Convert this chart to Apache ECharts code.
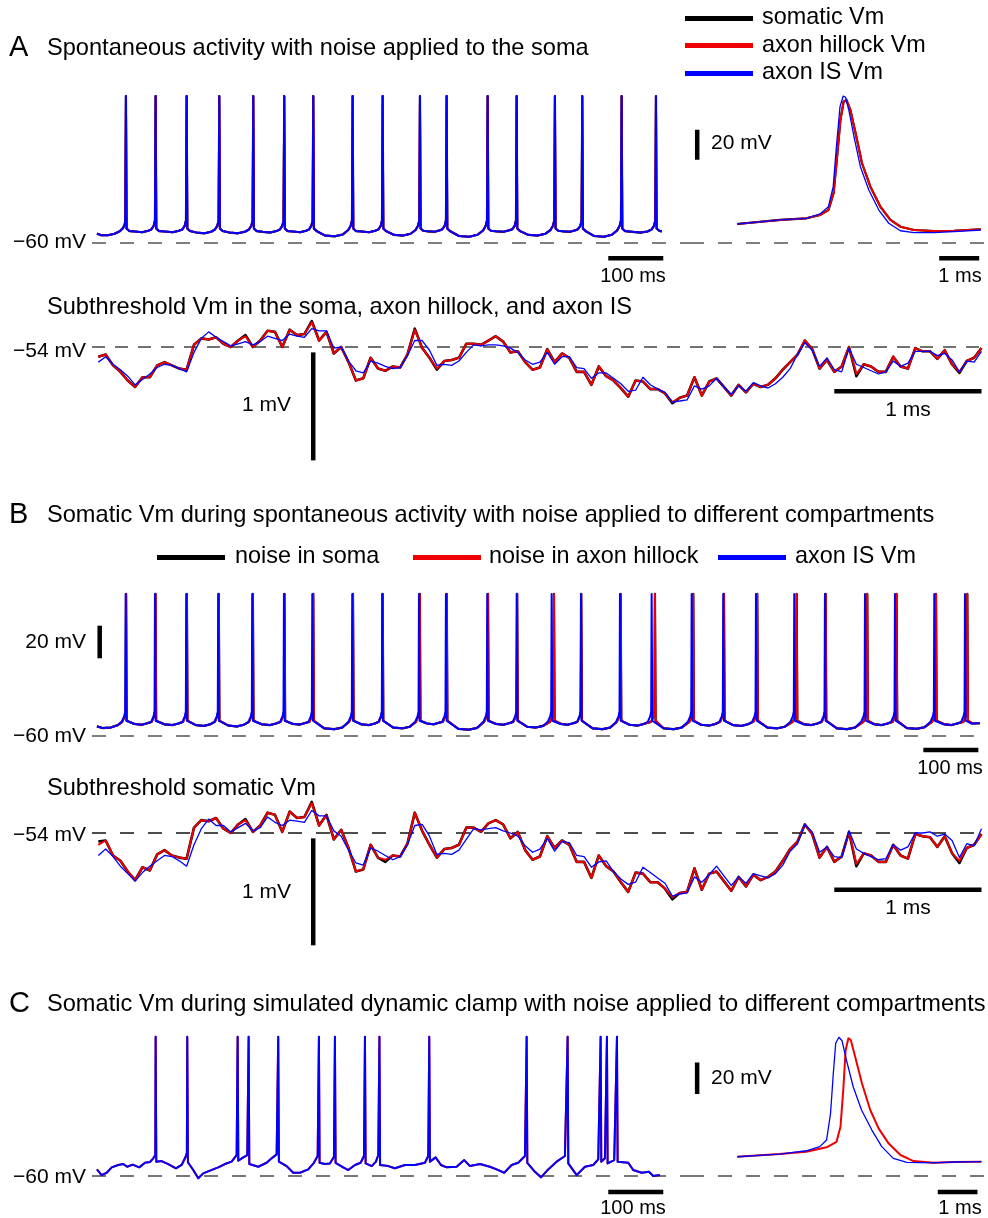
<!DOCTYPE html>
<html><head><meta charset="utf-8">
<script src="https://cdn.jsdelivr.net/npm/echarts/dist/echarts.min.js"></script>
<style>html,body{margin:0;padding:0;background:#fff}#c{width:988px;height:1218px}</style>
</head><body><div id="c"></div>
<script>
// ---------------- DATA ----------------
// Subthreshold traces: sampled every DT ms
const DT = 0.05;
const subA_soma = [
-54.09,-54.07,-54.17,-54.23,-54.31,-54.37,-54.28,-54.28,-54.17,-54.14,
-54.17,-54.20,-54.21,-53.98,-53.92,-53.93,-53.91,-53.97,-54.00,-53.94,
-53.89,-54.00,-53.94,-53.85,-53.86,-54.00,-53.84,-53.89,-53.88,-53.76,
-53.94,-53.86,-54.06,-54.00,-54.14,-54.31,-54.29,-54.10,-54.20,-54.22,
-54.18,-54.19,-54.07,-53.83,-54.01,-54.10,-54.21,-54.13,-54.12,-54.10,
-53.97,-53.97,-53.98,-53.94,-53.90,-53.95,-54.05,-54.04,-54.14,-54.21,
-54.19,-54.02,-54.14,-54.06,-54.10,-54.23,-54.23,-54.35,-54.18,-54.27,
-54.31,-54.38,-54.46,-54.31,-54.32,-54.39,-54.39,-54.43,-54.52,-54.47,
-54.45,-54.28,-54.45,-54.32,-54.29,-54.37,-54.45,-54.35,-54.42,-54.34,
-54.37,-54.35,-54.29,-54.21,-54.14,-54.07,-53.94,-54.02,-54.20,-54.12,
-54.23,-54.18,-54.00,-54.27,-54.16,-54.18,-54.23,-54.23,-54.09,-54.18,
-54.20,-54.01,-54.04,-54.04,-54.11,-54.03,-54.16,-54.24,-54.13,-54.10,
-54.01];
const subA_hillock = [
-54.09,-54.07,-54.17,-54.23,-54.31,-54.37,-54.28,-54.28,-54.17,-54.14,
-54.17,-54.20,-54.21,-53.98,-53.92,-53.93,-53.91,-53.97,-54.00,-53.94,
-53.90,-54.00,-53.94,-53.85,-53.86,-54.00,-53.84,-53.89,-53.88,-53.77,
-53.94,-53.86,-54.06,-54.00,-54.14,-54.31,-54.29,-54.10,-54.20,-54.22,
-54.18,-54.19,-54.07,-53.84,-54.01,-54.10,-54.20,-54.13,-54.12,-54.10,
-53.97,-53.97,-53.98,-53.94,-53.90,-53.95,-54.05,-54.04,-54.14,-54.21,
-54.19,-54.02,-54.14,-54.06,-54.10,-54.23,-54.23,-54.35,-54.18,-54.27,
-54.31,-54.38,-54.46,-54.31,-54.32,-54.39,-54.39,-54.43,-54.51,-54.47,
-54.45,-54.28,-54.45,-54.32,-54.29,-54.37,-54.45,-54.35,-54.42,-54.34,
-54.37,-54.35,-54.29,-54.21,-54.14,-54.07,-53.94,-54.02,-54.20,-54.12,
-54.23,-54.18,-54.00,-54.25,-54.16,-54.18,-54.23,-54.23,-54.09,-54.18,
-54.20,-54.01,-54.04,-54.04,-54.11,-54.03,-54.16,-54.23,-54.13,-54.10,
-54.01];
const subA_is = [
-54.14,-54.09,-54.16,-54.21,-54.27,-54.35,-54.30,-54.25,-54.19,-54.16,
-54.17,-54.20,-54.23,-54.05,-53.92,-53.86,-53.91,-53.95,-53.99,-53.97,
-53.95,-53.98,-53.95,-53.90,-53.92,-53.94,-53.88,-53.90,-53.91,-53.83,
-53.85,-53.85,-54.01,-54.00,-54.13,-54.22,-54.24,-54.13,-54.15,-54.18,
-54.20,-54.19,-54.08,-53.94,-53.94,-54.03,-54.17,-54.16,-54.17,-54.13,
-54.05,-53.98,-53.99,-53.98,-53.98,-53.99,-54.01,-54.05,-54.12,-54.16,
-54.14,-54.05,-54.16,-54.09,-54.09,-54.19,-54.20,-54.29,-54.24,-54.24,
-54.29,-54.34,-54.41,-54.40,-54.28,-54.35,-54.39,-54.42,-54.51,-54.50,
-54.49,-54.36,-54.39,-54.36,-54.29,-54.37,-54.44,-54.36,-54.41,-54.33,
-54.36,-54.38,-54.34,-54.28,-54.20,-54.07,-53.96,-54.03,-54.18,-54.10,
-54.21,-54.23,-54.01,-54.16,-54.19,-54.22,-54.25,-54.23,-54.13,-54.18,
-54.15,-54.04,-54.04,-54.04,-54.08,-54.06,-54.12,-54.23,-54.13,-54.14,
-54.04];
const subB_soma = [
-54.08,-54.07,-54.21,-54.26,-54.36,-54.44,-54.32,-54.35,-54.20,-54.16,
-54.21,-54.23,-54.24,-53.95,-53.88,-53.89,-53.86,-53.96,-54.00,-53.92,
-53.87,-53.99,-53.93,-53.81,-53.83,-53.99,-53.80,-53.86,-53.85,-53.71,
-53.93,-53.83,-54.06,-53.97,-54.14,-54.36,-54.34,-54.11,-54.23,-54.27,
-54.21,-54.22,-54.10,-53.81,-53.98,-54.11,-54.23,-54.15,-54.14,-54.11,
-53.95,-53.95,-53.99,-53.91,-53.88,-53.92,-54.05,-53.99,-54.16,-54.25,
-54.22,-54.03,-54.14,-54.07,-54.11,-54.27,-54.27,-54.42,-54.21,-54.31,
-54.36,-54.46,-54.55,-54.37,-54.38,-54.46,-54.46,-54.52,-54.62,-54.56,
-54.55,-54.33,-54.53,-54.38,-54.36,-54.45,-54.54,-54.41,-54.50,-54.39,
-54.44,-54.41,-54.36,-54.26,-54.15,-54.08,-53.92,-54.01,-54.23,-54.13,
-54.27,-54.22,-53.99,-54.31,-54.19,-54.21,-54.27,-54.27,-54.11,-54.21,
-54.24,-54.01,-54.03,-54.04,-54.13,-54.03,-54.19,-54.28,-54.14,-54.11,
-54.01];
const subB_hillock = [
-54.11,-54.07,-54.21,-54.26,-54.36,-54.44,-54.32,-54.35,-54.20,-54.16,
-54.21,-54.23,-54.24,-53.95,-53.88,-53.89,-53.86,-53.96,-54.00,-53.92,
-53.88,-53.99,-53.93,-53.81,-53.83,-53.99,-53.80,-53.86,-53.85,-53.72,
-53.93,-53.83,-54.06,-53.97,-54.14,-54.36,-54.34,-54.11,-54.23,-54.25,
-54.21,-54.22,-54.10,-53.81,-53.98,-54.11,-54.23,-54.15,-54.14,-54.11,
-53.95,-53.95,-53.99,-53.91,-53.88,-53.92,-54.05,-53.99,-54.16,-54.25,
-54.22,-54.03,-54.14,-54.07,-54.11,-54.27,-54.27,-54.42,-54.21,-54.31,
-54.36,-54.46,-54.55,-54.37,-54.38,-54.46,-54.46,-54.52,-54.60,-54.56,
-54.55,-54.33,-54.53,-54.38,-54.36,-54.45,-54.54,-54.41,-54.50,-54.39,
-54.44,-54.41,-54.36,-54.26,-54.15,-54.08,-53.92,-54.01,-54.23,-54.13,
-54.27,-54.22,-53.99,-54.29,-54.19,-54.21,-54.27,-54.27,-54.11,-54.21,
-54.24,-54.01,-54.03,-54.04,-54.13,-54.03,-54.19,-54.26,-54.14,-54.11,
-54.01];
const subB_is = [
-54.21,-54.15,-54.22,-54.31,-54.38,-54.45,-54.37,-54.31,-54.26,-54.21,
-54.22,-54.26,-54.31,-54.11,-53.96,-53.87,-53.93,-53.93,-53.99,-53.95,
-53.91,-53.98,-53.95,-53.85,-53.90,-53.93,-53.88,-53.89,-53.90,-53.79,
-53.84,-53.84,-53.98,-54.03,-54.16,-54.28,-54.30,-54.14,-54.17,-54.21,
-54.25,-54.22,-54.11,-53.93,-53.92,-54.03,-54.20,-54.19,-54.20,-54.16,
-54.06,-53.96,-53.97,-53.96,-53.95,-53.98,-54.00,-54.03,-54.12,-54.18,
-54.15,-54.05,-54.17,-54.08,-54.09,-54.21,-54.22,-54.32,-54.27,-54.26,
-54.36,-54.43,-54.48,-54.46,-54.32,-54.37,-54.42,-54.47,-54.59,-54.57,
-54.56,-54.41,-54.46,-54.39,-54.31,-54.40,-54.49,-54.41,-54.47,-54.38,
-54.40,-54.42,-54.38,-54.30,-54.17,-54.10,-53.92,-53.99,-54.18,-54.13,
-54.22,-54.23,-53.98,-54.15,-54.19,-54.22,-54.25,-54.24,-54.11,-54.16,
-54.13,-54.00,-54.00,-53.99,-54.03,-54.01,-54.07,-54.23,-54.10,-54.12,
-53.96];

// Single spikes, [ms, mV]
const spikeA_hillock = [[0,-47.8],[1.07,-45.1],[1.73,-44.0],[2.07,-41.8],[2.28,-38.5],[2.41,-27.3],[2.49,-5.1],[2.58,21.5],[2.66,33.7],[2.73,34.9],[2.83,28.2],[2.96,12.7],[3.12,-7.3],[3.33,-22.9],[3.58,-36.3],[3.83,-45.1],[4.08,-49.6],[4.42,-51.8],[4.92,-52.5],[5.42,-52.3],[6.09,-51.3]];
const spikeA_is = [[0,-47.8],[1.07,-45.1],[1.73,-44.0],[2.07,-41.1],[2.28,-36.3],[2.40,-22.9],[2.48,3.7],[2.57,30.4],[2.65,37.5],[2.71,36.7],[2.79,28.2],[2.92,10.4],[3.08,-9.6],[3.29,-25.1],[3.54,-38.5],[3.79,-47.3],[4.08,-52.3],[4.42,-53.6],[4.92,-53.6],[5.42,-52.9],[6.09,-51.8]];
const spikeC_hillock = [[0,-48.0],[1.07,-46.3],[1.74,-44.8],[2.25,-42.0],[2.5,-38.5],[2.6,-29.0],[2.67,-5.8],[2.73,19.6],[2.8,27.0],[2.86,25.9],[2.97,15.3],[3.14,-1.5],[3.35,-18.4],[3.56,-30.0],[3.81,-39.5],[4.11,-46.9],[4.44,-50.7],[4.95,-51.8],[5.45,-51.3],[6.15,-51.1]];
const spikeC_is = [[0,-48.0],[1.07,-46.3],[1.74,-44.2],[2.08,-41.6],[2.25,-37.4],[2.35,-20.5],[2.42,4.8],[2.48,23.8],[2.56,27.6],[2.64,25.4],[2.75,13.2],[2.92,-3.7],[3.13,-18.4],[3.39,-31.1],[3.64,-41.6],[3.93,-49.0],[4.27,-51.5],[4.95,-51.8],[5.45,-51.3],[6.15,-51.1]];

// Spike trains, [ms, mV]
const trainA = [
[0,-54.2],[8,-55.3],[20,-55.3],[32,-54.3],[42,-52.5],[47.5,-50.5],[50.5,-48],[51.5,-45.5],[52.7,37.5],
[53.9,-50.8],[58.7,-52.5],[68.9,-52.8],[82.4,-53.3],[93.2,-52.3],[98.7,-51.5],[103.2,-49],[105.5,-45.5],[106.7,37.5],
[107.9,-50.8],[112.7,-52.5],[123.6,-52.8],[137.7,-53.3],[149,-52.3],[155.1,-51.5],[159.6,-49],[161.9,-45.5],[163.1,37.5],
[164.3,-50.8],[169.1,-52.5],[180.9,-53.5],[195.7,-54],[207.6,-53],[214.4,-51.5],[218.9,-49],[221.2,-45.5],[222.4,37.5],
[223.6,-50.8],[228.4,-52.5],[240.9,-53.5],[256.4,-54],[268.8,-53],[276.2,-51.5],[280.7,-49],[283,-45.5],[284.2,37.5],
[285.4,-50.8],[290.2,-52.5],[301.1,-53],[315.2,-53.5],[326.4,-52.5],[332.5,-51.5],[337,-49],[339.3,-45.5],[340.5,37.5],
[341.7,-50.8],[346.5,-52.5],[356.3,-52.8],[369.5,-53.3],[380.1,-52.3],[385.3,-51.5],[389.8,-49],[392.1,-45.5],[393.3,37.5],
[394.5,-50.8],[399.3,-52.5],[414.8,-55.5],[432.7,-56],[447,-54.8],[456.9,-51.8],[461.4,-49],[463.7,-45.5],[464.9,37.5],
[466.1,-50.8],[470.9,-52.5],[481.3,-52.8],[494.9,-53.3],[505.8,-52.3],[511.5,-51.5],[516,-49],[518.3,-45.5],[519.5,37.5],
[520.7,-50.8],[525.5,-52.5],[539.8,-55],[556.8,-55.5],[570.4,-54.3],[579.3,-51.8],[583.8,-49],[586.1,-45.5],[587.3,37.5],
[588.5,-50.8],[593.3,-52.3],[601.9,-52.7],[614,-53],[623.7,-52],[627.8,-51.3],[632.3,-49],[634.6,-45.5],[635.8,37.5],
[637,-50.8],[641.8,-52.5],[658.2,-55.8],[676.8,-56.3],[691.8,-55],[702.4,-52],[706.9,-49],[709.2,-45.5],[710.4,37.5],
[711.6,-50.8],[716.4,-52.3],[726.2,-52.7],[739.4,-53],[749.9,-52],[755.1,-51.3],[759.6,-49],[761.9,-45.5],[763.1,37.5],
[764.3,-50.8],[769.1,-52.5],[784,-55],[801.4,-55.5],[815.3,-54.3],[824.7,-51.8],[829.2,-49],[831.5,-45.5],[832.7,37.5],
[833.9,-50.8],[838.7,-52.3],[847.6,-52.7],[860,-53],[870,-52],[874.4,-51.3],[878.9,-49],[881.2,-45.5],[882.4,37.5],
[883.6,-50.8],[888.4,-52.5],[903.9,-55.8],[921.8,-56.3],[936.1,-55],[946,-52],[950.5,-49],[952.8,-45.5],[954,37.5],
[955.2,-50.8],[960,-52.5],[972.7,-53],[988.3,-53.5],[1000.8,-52.8],[1008.4,-51.5],[1012.9,-49],[1015.2,-45.5],[1016.4,37.5],
[1017.6,-50.8],[1022.4,-52.3],[1027,-52.8]];

const trainB_is = [
[0,-54.3],[10,-55.3],[25,-55],[38,-53.5],[45,-51.5],[49.7,-48],[51.4,-45],[52.2,27],
[53.4,-50.8],[68.2,-52.8],[81.5,-53.3],[92.2,-52.3],[98.5,-51.5],[103,-48],[104.7,-45],[105.5,27],
[106.7,-50.8],[122.6,-53],[136.8,-53.5],[148.2,-52.5],[155.4,-51.5],[159.9,-48],[161.6,-45],[162.4,27],
[163.6,-50.8],[179.8,-53.5],[194.4,-54],[206,-53],[213.5,-51.5],[218,-48],[219.7,-45],[220.5,27],
[221.7,-50.8],[239.1,-53.8],[254.5,-54.3],[266.9,-53.3],[275.4,-51.5],[279.9,-48],[281.6,-45],[282.4,27],
[283.6,-50.8],[299.7,-53],[314.1,-53.5],[325.6,-52.5],[333,-51.5],[337.5,-48],[339.2,-45],[340,27],
[341.2,-50.8],[355.5,-52.7],[368.3,-53.2],[378.6,-52.2],[384.5,-51.5],[389,-48],[390.7,-45],[391.5,27],
[392.7,-50.8],[413.3,-55.5],[431.5,-56],[446,-55],[457.2,-51.5],[461.7,-48],[463.4,-45],[464.2,27],
[465.4,-50.8],[480.6,-53],[494.2,-53.5],[505.1,-52.5],[511.7,-51.5],[516.2,-48],[517.9,-45],[518.7,27],
[519.9,-50.8],[538.7,-55],[555.4,-55.5],[568.8,-54.5],[578.5,-51.5],[583,-48],[584.7,-45],[585.5,27],
[586.7,-50.8],[600.2,-52.5],[612.5,-53],[622.3,-52],[627.5,-51.5],[632,-48],[633.7,-45],[634.5,27],
[635.7,-50.8],[657,-55.8],[675.8,-56.3],[690.8,-55.3],[702.6,-51.5],[707.1,-48],[708.8,-45],[709.6,27],
[710.8,-50.8],[725.7,-52.8],[739,-53.3],[749.7,-52.3],[756.1,-51.5],[760.6,-48],[762.3,-45],[763.1,27],
[764.3,-50.8],[782.2,-54.5],[798.1,-55],[810.8,-54],[819.7,-51.5],[824.2,-48],[825.9,-45],[826.7,27],
[827.9,-50.8],[842.7,-52.8],[856,-53.3],[866.7,-52.3],[873,-51.5],[877.5,-48],[879.2,-45],[880,27],
[881.2,-50.8],[901.3,-55.5],[919,-56],[933.2,-55],[943.9,-51.5],[948.4,-48],[950.1,-45],[950.9,27],
[952.1,-50.8],[968.2,-53.3],[982.6,-53.8],[994.1,-52.8],[1001.5,-51.5],[1006,-48],[1007.7,-45],[1008.5,27],
[1009.7,-50.8],[1030.3,-55.5],[1048.5,-56],[1063.1,-55],[1074.3,-51.5],[1078.8,-48],[1080.5,-45],[1081.3,27],
[1082.5,-50.8],[1098.5,-53.3],[1112.9,-53.8],[1124.4,-52.8],[1131.7,-51.5],[1136.2,-48],[1137.9,-45],[1138.7,27],
[1139.9,-50.8],[1156.6,-53.5],[1171.4,-54],[1183.3,-53],[1191.2,-51.5],[1195.7,-48],[1197.4,-45],[1198.2,27],
[1199.4,-50.8],[1219.1,-55],[1236.5,-55.5],[1250.4,-54.5],[1260.8,-51.5],[1265.3,-48],[1267,-45],[1267.8,27],
[1269,-50.8],[1284.5,-53],[1298.5,-53.5],[1309.7,-52.5],[1316.6,-51.5],[1321.1,-48],[1322.8,-45],[1323.6,27],
[1324.8,-50.8],[1345.4,-55.5],[1363.6,-56],[1378.2,-55],[1389.4,-51.5],[1393.9,-48],[1395.6,-45],[1396.4,27],
[1397.6,-50.8],[1412.8,-53],[1426.4,-53.5],[1437.3,-52.5],[1443.9,-51.5],[1448.4,-48],[1450.1,-45],[1450.9,27],
[1452.1,-50.8],[1472.4,-55.3],[1490.2,-55.8],[1504.5,-54.8],[1515.4,-51.5],[1519.9,-48],[1521.6,-45],[1522.4,27],
[1523.6,-50.8],[1539.1,-53],[1553.1,-53.5],[1564.3,-52.5],[1571.2,-51.5],[1575.7,-48],[1577.4,-45],[1578.2,27],
[1579.4,-50.8],[1590,-52.5],[1605,-52.3]];

const trainB_hillock = [
[0,-54.3],[10,-55.3],[25,-55],[38,-53.5],[46,-51.5],[50.5,-48],[52.2,-45],[53,27],
[54.2,-50.8],[68.2,-52.8],[81.5,-53.3],[92.2,-52.3],[99.5,-51.5],[104,-48],[105.7,-45],[106.5,27],
[107.7,-50.8],[122.6,-53],[136.8,-53.5],[148.2,-52.5],[156.5,-51.5],[161,-48],[162.7,-45],[163.5,27],
[164.7,-50.8],[179.8,-53.5],[194.4,-54],[206,-53],[214.5,-51.5],[219,-48],[220.7,-45],[221.5,27],
[222.7,-50.8],[239.1,-53.8],[254.5,-54.3],[266.9,-53.3],[276.5,-51.5],[281,-48],[282.7,-45],[283.5,27],
[284.7,-50.8],[299.7,-53],[314.1,-53.5],[325.6,-52.5],[334,-51.5],[338.5,-48],[340.2,-45],[341,27],
[342.2,-50.8],[355.5,-52.7],[368.3,-53.2],[378.6,-52.2],[386.3,-51.5],[390.8,-48],[392.5,-45],[393.3,27],
[394.5,-50.8],[413.3,-55.5],[431.5,-56],[446,-55],[458.5,-51.5],[463,-48],[464.7,-45],[465.5,27],
[466.7,-50.8],[480.6,-53],[494.2,-53.5],[505.1,-52.5],[512.5,-51.5],[517,-48],[518.7,-45],[519.5,27],
[520.7,-50.8],[538.7,-55],[555.4,-55.5],[568.8,-54.5],[580,-51.5],[584.5,-48],[586.2,-45],[587,27],
[588.2,-50.8],[600.2,-52.5],[612.5,-53],[622.3,-52],[629,-51.5],[633.5,-48],[635.2,-45],[636,27],
[637.2,-50.8],[657,-55.8],[675.8,-56.3],[690.8,-55.3],[704,-51.5],[708.5,-48],[710.2,-45],[711,27],
[712.2,-50.8],[725.7,-52.8],[739,-53.3],[749.7,-52.3],[757,-51.5],[761.5,-48],[763.2,-45],[764,27],
[765.2,-50.8],[782.2,-54.5],[798.1,-55],[810.8,-54],[823.9,-51.5],[828.4,-48],[830.1,-45],[830.9,27],
[832.1,-50.8],[844,-52.8],[856,-53.3],[866.7,-52.3],[873.5,-51.5],[878,-48],[879.7,-45],[880.5,27],
[881.7,-50.8],[901.3,-55.5],[919,-56],[933.2,-55],[945.2,-51.5],[949.7,-48],[951.4,-45],[952.2,27],
[953.4,-50.8],[968.2,-53.3],[982.6,-53.8],[994.1,-52.8],[1007.5,-51.5],[1012,-48],[1013.7,-45],[1014.5,27],
[1015.7,-50.8],[1030.3,-55.5],[1048.5,-56],[1063.1,-55],[1077.2,-51.5],[1081.7,-48],[1083.4,-45],[1084.2,27],
[1085.4,-50.8],[1098.5,-53.3],[1112.9,-53.8],[1124.4,-52.8],[1133,-51.5],[1137.5,-48],[1139.2,-45],[1140,27],
[1141.2,-50.8],[1156.6,-53.5],[1171.4,-54],[1183.3,-53],[1193.5,-51.5],[1198,-48],[1199.7,-45],[1200.5,27],
[1201.7,-50.8],[1219.1,-55],[1236.5,-55.5],[1250.4,-54.5],[1265.2,-51.5],[1269.7,-48],[1271.4,-45],[1272.2,27],
[1273.4,-50.8],[1286,-53],[1298.5,-53.5],[1309.7,-52.5],[1317.9,-51.5],[1322.4,-48],[1324.1,-45],[1324.9,27],
[1326.1,-50.8],[1345.4,-55.5],[1363.6,-56],[1378.2,-55],[1393.5,-51.5],[1398,-48],[1399.7,-45],[1400.5,27],
[1401.7,-50.8],[1414,-53],[1426.4,-53.5],[1437.3,-52.5],[1446.8,-51.5],[1451.3,-48],[1453,-45],[1453.8,27],
[1455,-50.8],[1472.4,-55.3],[1490.2,-55.8],[1504.5,-54.8],[1518.5,-51.5],[1523,-48],[1524.7,-45],[1525.5,27],
[1526.7,-50.8],[1541,-53],[1553.1,-53.5],[1564.3,-52.5],[1575.4,-51.5],[1579.9,-48],[1581.6,-45],[1582.4,27],
[1583.6,-50.8],[1592,-52.5],[1605,-52.3]];

const trainC = [
[0,-56],[8.5,-59.6],[17.7,-58.1],[26.8,-54.7],[38.7,-53.2],[47.8,-52.6],[55.1,-54.3],[64.9,-53],[76.9,-54.7],[87.3,-51.8],[96.4,-51.3],[102.4,-49],[106.1,-46.9],[106.7,28],
[107.9,-51.1],[117.6,-50.7],[129.6,-52.6],[143.6,-55.3],[154,-53.2],[161.3,-48],[163.5,-45.5],[164.2,28],
[165.4,-51.5],[175.1,-56.4],[184.2,-61.6],[193.3,-58.5],[205.5,-56.8],[220.5,-54.7],[232.7,-52.6],[244.9,-51.1],[254,-46.9],[255.8,28],
[257,-50.5],[266,-48.4],[273.3,-46.9],[275.8,28],
[277,-52.6],[293.3,-54.3],[308.5,-51.8],[317.6,-49],[326.7,-46.5],[329.6,28],
[330.8,-51.1],[344.9,-53.9],[356.9,-58.1],[369.1,-58.1],[384.2,-56],[394.5,-51.8],[401.3,-47.5],[403.6,28],
[404.8,-51.8],[414.5,-52.6],[423.6,-52.2],[430.9,-48],[432.7,28],
[433.9,-51.8],[447.8,-54.7],[456.9,-56.4],[469.1,-53.2],[479.5,-51.8],[485.5,-47.5],[487.3,28],
[488.5,-52.2],[499.5,-53.9],[507.3,-51.1],[511.5,-46.9],[513.6,28],
[514.8,-53.2],[529.6,-53.9],[541.8,-55.3],[560,-53.2],[578.2,-53.2],[596.4,-51.8],[602.4,-47.5],[604.2,28],
[605.4,-51.1],[615.8,-48.4],[625.5,-53.2],[635.8,-54.7],[654,-54.3],[667.8,-50.1],[678.2,-53.9],[696.4,-52.6],[714.5,-54.3],[726.7,-56],[740.5,-58.1],[754,-53.2],[766,-51.8],[778.2,-47.5],[781.3,28],
[782.5,-51.8],[796.4,-57.5],[807.3,-61],[820.5,-56],[835.8,-51.1],[850.9,-47.5],[855.8,28],
[857,-52.2],[872.2,-59.6],[887.3,-54.3],[902.4,-53.2],[911.5,-49.6],[915.8,28],
[917,-51.1],[923.6,-49],[927.3,28],
[928.5,-52.2],[940.5,-50.1],[945.5,28],
[946.7,-51.1],[966,-51.8],[975.1,-56.4],[990.4,-58.1],[1003.6,-57.5],[1011.5,-60.2],[1023.6,-59.6]];

// Reference levels (mV) and scale bars ([ms, mV] end points)
const restLevel = -60, subLevel = -54;
const barA_100ms = [[929.7,-70.7],[1029.7,-70.7]];
const barA_20mV  = [[-1.0,-5],[-1.0,15]];
const barA_1ms   = [[5.05,-70.7],[6.05,-70.7]];
const barAs_1mV  = [[1.46,-54.05],[1.46,-55.05]];
const barAs_1ms  = [[5.0,-54.41],[6.0,-54.41]];
const barB_20mV  = [[5,-12.5],[5,7.5]];
const barB_100ms = [[1502.5,-68.8],[1602.5,-68.8]];
const barBs_1mV  = [[1.46,-54.05],[1.46,-55.05]];
const barBs_1ms  = [[5.0,-54.53],[6.0,-54.53]];
const barC_100ms = [[929.7,-70.3],[1029.7,-70.3]];
const barC_20mV  = [[-1.01,-8.3],[-1.01,11.7]];
const barC_1ms   = [[5.05,-70.3],[6.05,-70.3]];

// ---------------- CHART ----------------
const BLACK = '#000000', RED = '#ee0000', BLUE = '#0000ff', DASH = '#555555';
const FONT = '"Liberation Sans", Arial, Helvetica, sans-serif';
const grids = [
  {left:92,  top:92.3,   width:598, height:168,   x:[-9,1078.3],        y:[-72,40]},
  {left:690, top:92.3,   width:295, height:168,   x:[-1.18,6.195],      y:[-72,40]},
  {left:92,  top:314.6,  width:893, height:151.2, x:[-0.0428,6.0238],   y:[-55.1,-53.7]},
  {left:92,  top:589,    width:893, height:163,   x:[-9,1614.6],        y:[-70,30]},
  {left:92,  top:800.9,  width:893, height:149.8, x:[-0.0428,6.0238],   y:[-55.1,-53.7]},
  {left:92,  top:1033.5, width:598, height:161.2, x:[-9,1078.3],        y:[-72,30]},
  {left:690, top:1033.5, width:295, height:161.2, x:[-1.19,6.24],       y:[-72,30]}
];
const sub = arr => arr.map((v,i)=>[+(i*DT).toFixed(3), v]);
function S(name, gi, data, color, width, z) {
  return {type:'line', name, xAxisIndex:gi, yAxisIndex:gi, data, symbol:'none', showSymbol:false,
    animation:false, silent:true, clip:false, z,
    lineStyle:{color, width, join:'round', cap:'butt'}, itemStyle:{color}, emphasis:{disabled:true}};
}
function bar(gi, data, level, dash, dcolor) {
  const s = S('', gi, data, BLACK, 4.5, 1);
  s.lineStyle.join = 'miter';
  if (level !== undefined) {
    s.markLine = {silent:true, animation:false, symbol:['none','none'], label:{show:false},
      lineStyle:{type:dash, color:dcolor, width:1.6}, data:[{yAxis:level}], z:0};
  }
  return s;
}
const series = [
  // A train
  S('somatic Vm',0,trainA,BLACK,2.2,2), S('axon hillock Vm',0,trainA,RED,2,3), S('axon IS Vm',0,trainA,BLUE,2,4),
  bar(0, barA_100ms, restLevel, [14,14], DASH),
  // A spike
  S('somatic Vm',1,spikeA_hillock,BLACK,2.2,2), S('axon hillock Vm',1,spikeA_hillock,RED,2,3), S('axon IS Vm',1,spikeA_is,BLUE,1.3,4),
  bar(1, barA_20mV, restLevel, [14,14], DASH), bar(1, barA_1ms),
  // A subthreshold
  S('somatic Vm',2,sub(subA_soma),BLACK,2.6,2), S('axon hillock Vm',2,sub(subA_hillock),RED,2,3), S('axon IS Vm',2,sub(subA_is),BLUE,1.3,4),
  bar(2, barAs_1mV, subLevel, [13,10], '#444'), bar(2, barAs_1ms),
  // B train
  S('noise in soma',3,trainB_hillock,BLACK,2.2,2), S('noise in axon hillock',3,trainB_hillock,RED,2,3), S('axon IS Vm',3,trainB_is,BLUE,2,4),
  bar(3, barB_20mV, restLevel, [14,14], DASH), bar(3, barB_100ms),
  // B subthreshold
  S('noise in soma',4,sub(subB_soma),BLACK,2.6,2), S('noise in axon hillock',4,sub(subB_hillock),RED,2,3), S('axon IS Vm',4,sub(subB_is),BLUE,1.3,4),
  bar(4, barBs_1mV, subLevel, [14,14], '#222'), bar(4, barBs_1ms),
  // C train
  S('noise in axon hillock',5,trainC,RED,2,3), S('axon IS Vm',5,trainC,BLUE,2,4),
  bar(5, barC_100ms, restLevel, [14,14], DASH),
  // C spike
  S('noise in axon hillock',6,spikeC_hillock,RED,2,3), S('axon IS Vm',6,spikeC_is,BLUE,1.3,4),
  bar(6, barC_20mV, restLevel, [14,14], DASH), bar(6, barC_1ms)
];

function T(x, y, text, size, align) {
  return {type:'text', x, y, silent:true, z:10,
    style:{text, fill:'#000', font:size+'px '+FONT, textAlign:align||'left', align:align||'left',
      textVerticalAlign:'middle', verticalAlign:'middle'}};
}
function R(x, y, w, h, color) { return {type:'rect', silent:true, shape:{x, y, width:w, height:h}, style:{fill:color}}; }
const graphic = [
  T(9, 48, 'A', 29), T(47, 48, 'Spontaneous activity with noise applied to the soma', 23.6),
  R(685, 16, 68, 5, BLACK), T(762, 18, 'somatic Vm', 23.4),
  R(685, 43, 68, 5, RED),   T(762, 45.5, 'axon hillock Vm', 23.4),
  R(685, 71, 68, 5, BLUE),  T(762, 73, 'axon IS Vm', 23.4),
  T(86, 242, '\u221260 mV', 21, 'right'),
  T(633, 276, '100 ms', 20, 'center'), T(960, 276, '1 ms', 20, 'center'), T(711, 143, '20 mV', 21),
  T(47, 307, 'Subthreshold Vm in the soma, axon hillock, and axon IS', 23.6),
  T(86, 351, '\u221254 mV', 21, 'right'), T(291, 405, '1 mV', 21, 'right'), T(908, 410, '1 ms', 21, 'center'),
  T(9, 515, 'B', 29), T(47, 515, 'Somatic Vm during spontaneous activity with noise applied to different compartments', 23.6),
  R(157, 555, 68, 5, BLACK), T(235, 557, 'noise in soma', 23.4),
  R(413, 555, 68, 5, RED),   T(489, 557, 'noise in axon hillock', 23.4),
  R(718, 555, 68, 5, BLUE),  T(795, 557, 'axon IS Vm', 23.4),
  T(86, 642, '20 mV', 21, 'right'), T(86, 736, '\u221260 mV', 21, 'right'), T(950, 768, '100 ms', 20, 'center'),
  T(47, 788, 'Subthreshold somatic Vm', 23.6),
  T(86, 835, '\u221254 mV', 21, 'right'), T(291, 892, '1 mV', 21, 'right'), T(908, 908, '1 ms', 21, 'center'),
  T(9, 1004, 'C', 29), T(47, 1004, 'Somatic Vm during simulated dynamic clamp with noise applied to different compartments', 23.6),
  T(711, 1078, '20 mV', 21), T(86, 1177, '\u221260 mV', 21, 'right'),
  T(633, 1208, '100 ms', 20, 'center'), T(960, 1208, '1 ms', 20, 'center')
];

const chart = echarts.init(document.getElementById('c'), null, {renderer:'canvas', devicePixelRatio:1});
chart.setOption({
  backgroundColor:'#ffffff', animation:false,
  grid: grids.map(g=>({left:g.left, top:g.top, width:g.width, height:g.height, containLabel:false})),
  xAxis: grids.map((g,i)=>({type:'value', gridIndex:i, min:g.x[0], max:g.x[1], show:false})),
  yAxis: grids.map((g,i)=>({type:'value', gridIndex:i, min:g.y[0], max:g.y[1], show:false})),
  series, graphic
});
</script></body></html>
